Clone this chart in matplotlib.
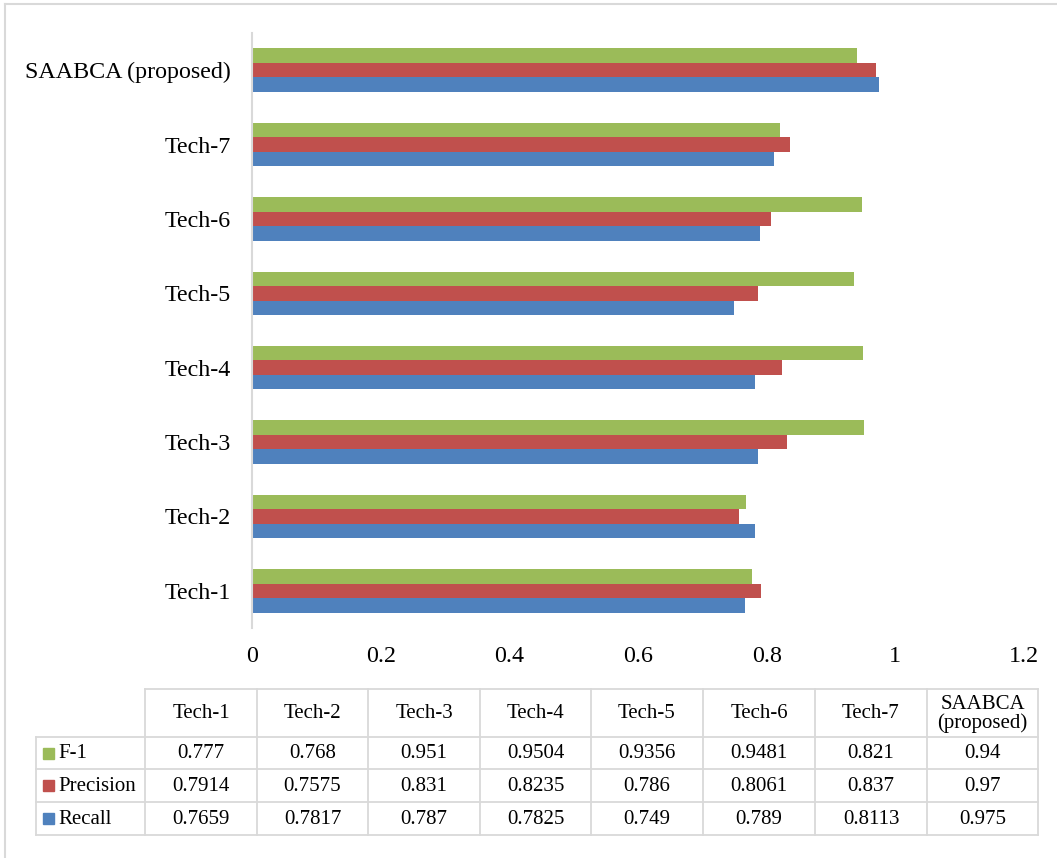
import numpy as np
import matplotlib
matplotlib.use("Agg")
import matplotlib.pyplot as plt
from matplotlib.patches import Rectangle

plt.rcParams['font.family'] = ['Liberation Serif', 'DejaVu Serif']

# techniques, bottom to top on the bar chart
techniques = ["Tech-1", "Tech-2", "Tech-3", "Tech-4", "Tech-5", "Tech-6", "Tech-7", "SAABCA (proposed)"]
table_heads = ["Tech-1", "Tech-2", "Tech-3", "Tech-4", "Tech-5", "Tech-6", "Tech-7", "SAABCA\n(proposed)"]

f1        = [0.777, 0.768, 0.951, 0.9504, 0.9356, 0.9481, 0.821, 0.94]
precision = [0.7914, 0.7575, 0.831, 0.8235, 0.786, 0.8061, 0.837, 0.97]
recall    = [0.7659, 0.7817, 0.787, 0.7825, 0.749, 0.789, 0.8113, 0.975]

f1_txt        = ["0.777", "0.768", "0.951", "0.9504", "0.9356", "0.9481", "0.821", "0.94"]
precision_txt = ["0.7914", "0.7575", "0.831", "0.8235", "0.786", "0.8061", "0.837", "0.97"]
recall_txt    = ["0.7659", "0.7817", "0.787", "0.7825", "0.749", "0.789", "0.8113", "0.975"]

xticks = [0, 0.2, 0.4, 0.6, 0.8, 1.0, 1.2]
xtick_labels = ["0", "0.2", "0.4", "0.6", "0.8", "1", "1.2"]

c_blue = "#4F81BD"
c_red = "#C0504D"
c_green = "#9BBB59"
grey = "#D9D9D9"

W, H = 1057, 858
fig = plt.figure(figsize=(W / 100, H / 100), dpi=100)

# pixel-space overlay for the frame and the data table
bg = fig.add_axes([0, 0, 1, 1])
bg.set_xlim(0, W)
bg.set_ylim(H, 0)
bg.axis("off")
bg.plot([5, W], [4, 4], color=grey, lw=1.5)
bg.plot([5, 5], [4, H], color=grey, lw=1.5)

# bar chart
ax = fig.add_axes([252 / W, 1 - 628 / H, (1024 - 252) / W, (628 - 33) / H])
y = np.arange(len(techniques))
h = 0.195
ax.barh(y + h, f1, height=h, color=c_green, label="F-1")
ax.barh(y, precision, height=h, color=c_red, label="Precision")
ax.barh(y - h, recall, height=h, color=c_blue, label="Recall")
ax.set_xlim(0, 1.2)
ax.set_ylim(-0.5, len(techniques) - 0.5)
ax.set_yticks(y)
ax.set_yticklabels(techniques, fontsize=17.3)
ax.set_xticks(xticks)
ax.set_xticklabels(xtick_labels, fontsize=17.3)
ax.tick_params(axis="both", length=0)
ax.tick_params(axis="x", pad=13)
ax.tick_params(axis="y", pad=15)
for s in ["top", "right", "bottom"]:
    ax.spines[s].set_visible(False)
ax.spines["left"].set_color(grey)
ax.spines["left"].set_linewidth(1.5)

# data table under the chart
col_edges = [36, 145, 257, 368, 480, 591, 703, 815, 927, 1038]
row_edges = [689, 737, 769, 802, 835]
fs_tab = 15
lw_tab = 1.3

# header row has no label cell
bg.plot([col_edges[1], col_edges[-1]], [row_edges[0], row_edges[0]], color=grey, lw=lw_tab)
for yy in row_edges[1:]:
    bg.plot([col_edges[0], col_edges[-1]], [yy, yy], color=grey, lw=lw_tab)
bg.plot([col_edges[0], col_edges[0]], [row_edges[1], row_edges[-1]], color=grey, lw=lw_tab)
for xx in col_edges[1:]:
    bg.plot([xx, xx], [row_edges[0], row_edges[-1]], color=grey, lw=lw_tab)

for i, head in enumerate(table_heads):
    cx = (col_edges[i + 1] + col_edges[i + 2]) / 2
    cy = (row_edges[0] + row_edges[1]) / 2
    bg.text(cx, cy + 1, head, ha="center", va="center", fontsize=fs_tab, linespacing=0.95)

rows = [("F-1", c_green, f1_txt), ("Precision", c_red, precision_txt), ("Recall", c_blue, recall_txt)]
for r, (name, col, vals) in enumerate(rows):
    cy = (row_edges[r + 1] + row_edges[r + 2]) / 2
    bg.add_patch(Rectangle((43, cy - 5.5), 11, 11, color=col))
    bg.text(58, cy + 1, name, ha="left", va="center", fontsize=fs_tab)
    for i, v in enumerate(vals):
        cx = (col_edges[i + 1] + col_edges[i + 2]) / 2
        bg.text(cx, cy + 1, v, ha="center", va="center", fontsize=fs_tab)

fig.savefig("out.png", dpi=100)
